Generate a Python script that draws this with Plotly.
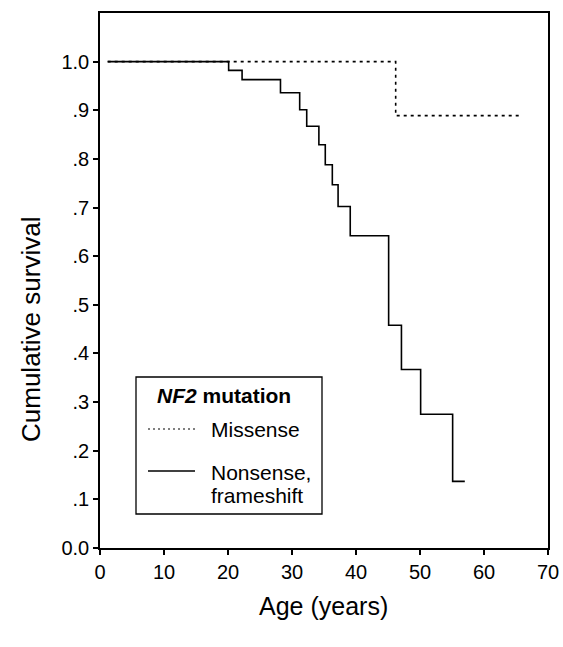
import plotly.graph_objects as go

# Kaplan-Meier curves
missense_age = [1.2, 46.2, 65.7]
missense_surv = [1.0, 0.889, 0.889]

nonsense_age = [1.2, 20.1, 22.2, 28.2, 31.2, 32.3, 34.2, 35.2, 36.3, 37.2,
                39.1, 45.1, 47.1, 50.1, 55.1, 57.0]
nonsense_surv = [1.0, 0.982, 0.963, 0.936, 0.901, 0.867, 0.829, 0.788, 0.747,
                 0.702, 0.642, 0.458, 0.367, 0.275, 0.137, 0.137]

x_ticks = [0, 10, 20, 30, 40, 50, 60, 70]
y_tickvals = [0.0, 0.1, 0.2, 0.3, 0.4, 0.5, 0.6, 0.7, 0.8, 0.9, 1.0]
y_ticktext = ["0.0", ".1", ".2", ".3", ".4", ".5", ".6", ".7", ".8", ".9", "1.0"]

W, H = 563, 647
L, R, T, B = 100, 15, 13, 99
PW, PH = W - L - R, H - T - B
FONT = "Arial, Liberation Sans, Helvetica, sans-serif"


def px(x):
    return (x - L) / PW


def py(y):
    return (H - B - y) / PH


fig = go.Figure()
fig.add_trace(go.Scatter(x=missense_age, y=missense_surv, mode="lines",
                         line=dict(shape="hv", color="black", width=1.6, dash="3px,4px"),
                         name="Missense", showlegend=False))
fig.add_trace(go.Scatter(x=nonsense_age, y=nonsense_surv, mode="lines",
                         line=dict(shape="hv", color="black", width=1.6),
                         name="Nonsense, frameshift", showlegend=False))

axis_common = dict(showline=True, linecolor="black", linewidth=1.5, mirror=True,
                   ticks="outside", ticklen=5, tickwidth=1.5, tickcolor="black",
                   showgrid=False, zeroline=False, automargin=False,
                   tickfont=dict(family=FONT, size=20, color="black"))

fig.update_xaxes(range=[0, 70], tickvals=x_ticks, **axis_common)
fig.update_yaxes(range=[0, 1.1], tickvals=y_tickvals, ticktext=y_ticktext, **axis_common)

shapes = [
    dict(type="rect", xref="paper", yref="paper", x0=px(136), x1=px(322), y0=py(514), y1=py(377),
         line=dict(color="black", width=1.3), fillcolor="white", layer="above"),
    dict(type="line", xref="paper", yref="paper", x0=px(148), x1=px(195), y0=py(429), y1=py(429),
         line=dict(color="black", width=1, dash="2px,3px")),
    dict(type="line", xref="paper", yref="paper", x0=px(148), x1=px(195), y0=py(471), y1=py(471),
         line=dict(color="black", width=1.6)),
]

annotations = [
    dict(text="<b><i>NF2</i> mutation</b>", x=px(155), y=py(395)),
    dict(text="Missense", x=px(209), y=py(429)),
    dict(text="Nonsense,", x=px(209), y=py(472)),
    dict(text="frameshift", x=px(209), y=py(495)),
]
annotations = [dict(a, xref="paper", yref="paper", xanchor="left", yanchor="middle",
                    showarrow=False, font=dict(family=FONT, size=21, color="black"))
               for a in annotations]
annotations.append(dict(text="Age (years)", xref="paper", yref="paper", x=px(323), y=py(606),
                        xanchor="center", yanchor="middle", showarrow=False,
                        font=dict(family=FONT, size=25, color="black")))
annotations.append(dict(text="Cumulative survival", xref="paper", yref="paper", x=px(31), y=py(330),
                        xanchor="center", yanchor="middle", textangle=-90, showarrow=False,
                        font=dict(family=FONT, size=26, color="black")))

fig.update_layout(width=W, height=H, margin=dict(l=L, r=R, t=T, b=B),
                  paper_bgcolor="white", plot_bgcolor="white",
                  shapes=shapes, annotations=annotations, showlegend=False)

fig.write_html("out.html",
               config={"displayModeBar": False},
               post_script="document.body.style.margin='0';"
                           "document.body.style.overflow='hidden';"
                           "document.documentElement.style.overflow='hidden';")
